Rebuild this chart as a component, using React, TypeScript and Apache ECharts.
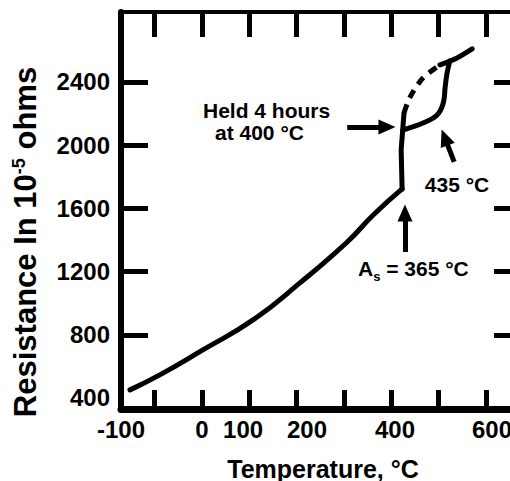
import React, { useEffect, useRef } from 'react';
import * as echarts from 'echarts';

// ---- axis scale (units of the tick marks) ----
const X_MIN = -171;
const X_MAX = 670;
const Y_MIN = 330;
const Y_MAX = 2843;

// tick marks and tick labels
const xTickValues = [-100, 0, 100, 200, 300, 400, 500, 600];
const xLabelValues = [-171, 0, 87, 222, 408, 613];
const xLabelTexts = ['-100', '0', '100', '200', '400', '600'];
const yTickValues = [800, 1200, 1600, 2000, 2400];
const yLabelValues = [400, 800, 1200, 1600, 2000, 2400];

// ---- series data [temperature, resistance] ----
const heating = [
  [-152, 451], [-89, 546], [2, 704], [108, 894], [207, 1128],
  [307, 1387], [362, 1558], [423, 1723],
];
const transformation = [[423, 1723], [421, 1970], [427, 2204]];
const heldBranch = [
  [425, 2096], [467, 2140], [497, 2191], [510, 2267],
  [514, 2368], [518, 2457], [524, 2534],
];
const upperLine = [[503, 2508], [539, 2552], [571, 2609]];
const dashedPath = [[427, 2204], [440, 2305], [467, 2425], [503, 2508]];

// ---- annotation arrows [from, to] ----
const arrows = [
  [[307, 2115], [391, 2115]],
  [[533, 1894], [513, 2049]],
  [[429, 1324], [429, 1571]],
];

const FONT = "'Liberation Sans', Arial, Helvetica, sans-serif";

export default function App() {
  const ref = useRef<HTMLDivElement>(null);

  useEffect(() => {
    if (!ref.current) return;
    const chart = echarts.init(ref.current, undefined, { renderer: 'svg' });

    const lineBase = {
      type: 'line',
      symbol: 'none',
      silent: true,
      clip: false,
      lineStyle: { color: '#000', width: 5, cap: 'round', join: 'round' },
    };

    const commonX = {
      type: 'value',
      min: X_MIN,
      max: X_MAX,
      splitLine: { show: false },
    };
    const commonY = {
      type: 'value',
      min: Y_MIN,
      max: Y_MAX,
      splitLine: { show: false },
    };

    const option: any = {
      animation: false,
      backgroundColor: '#fff',
      grid: {
        left: 121, right: 11, top: 12, bottom: 72,
        containLabel: false,
        outerBoundsMode: 'none',
      },
      xAxis: [
        {
          ...commonX,
          position: 'bottom',
          axisLine: { show: true, onZero: false, lineStyle: { color: '#000', width: 7 } },
          axisTick: {
            show: true,
            inside: true,
            length: 19,
            customValues: xTickValues,
            lineStyle: { color: '#000', width: 5 },
          },
          axisLabel: {
            show: true,
            customValues: xLabelValues,
            formatter: (v: number) => {
              const i = xLabelValues.indexOf(v);
              return i >= 0 ? xLabelTexts[i] : '';
            },
            fontSize: 24,
            fontWeight: 'bold',
            fontFamily: FONT,
            color: '#000',
            margin: 8,
          },
          name: 'Temperature, °C',
          nameLocation: 'middle',
          nameGap: 47,
          nameTextStyle: {
            fontSize: 25,
            fontWeight: 'bold',
            fontFamily: FONT,
            color: '#000',
            padding: [0, 0, 0, 6],
          },
        },
        {
          ...commonX,
          position: 'top',
          axisLine: { show: true, onZero: false, lineStyle: { color: '#000', width: 4 } },
          axisTick: {
            show: true,
            inside: true,
            length: 25,
            customValues: xTickValues,
            lineStyle: { color: '#000', width: 5 },
          },
          axisLabel: { show: false },
        },
      ],
      yAxis: [
        {
          ...commonY,
          position: 'left',
          axisLine: { show: true, onZero: false, lineStyle: { color: '#000', width: 6 } },
          axisTick: {
            show: true,
            inside: true,
            length: 27,
            customValues: yTickValues,
            lineStyle: { color: '#000', width: 5 },
          },
          axisLabel: {
            show: true,
            customValues: yLabelValues,
            formatter: (v: number) => String(v),
            fontSize: 24,
            fontWeight: 'bold',
            fontFamily: FONT,
            color: '#000',
            margin: 11,
          },
        },
        {
          ...commonY,
          position: 'right',
          axisLine: { show: true, onZero: false, lineStyle: { color: '#000', width: 6 } },
          axisTick: {
            show: true,
            inside: true,
            length: 25,
            customValues: yTickValues,
            lineStyle: { color: '#000', width: 5 },
          },
          axisLabel: { show: false },
        },
      ],
      series: [
        {
          ...lineBase,
          name: 'Heating',
          smooth: 0.5,
          data: heating,
          markLine: {
            silent: true,
            symbol: ['none', 'triangle'],
            symbolSize: [15, 17],
            lineStyle: { color: '#000', width: 5, type: 'solid' },
            label: { show: false },
            emphasis: { disabled: true },
            data: arrows.map(([a, b]) => [{ coord: a }, { coord: b }]),
          },
        },
        { ...lineBase, name: 'Transformation', data: transformation },
        { ...lineBase, name: 'Held 4 h', smooth: 0.4, data: heldBranch },
        { ...lineBase, name: 'Upper', smooth: 0.3, data: upperLine },
        {
          ...lineBase,
          name: 'Continuous heating',
          smooth: 0.3,
          data: dashedPath,
          lineStyle: { color: '#000', width: 5, type: [9, 7] },
        },
      ],
      graphic: [
        {
          type: 'text',
          x: 25,
          y: 242,
          rotation: Math.PI / 2,
          style: {
            text: '{n|Resistance In 10}{sup|-5}{n| ohms}',
            align: 'center',
            verticalAlign: 'middle',
            textAlign: 'center',
            textVerticalAlign: 'middle',
            fill: '#000',
            rich: {
              n: { fontSize: 31, fontWeight: 'bold', fontFamily: FONT, fill: '#000' },
              sup: { fontSize: 18, fontWeight: 'bold', fontFamily: FONT, fill: '#000', verticalAlign: 'top' },
            },
          },
        },
        {
          type: 'text',
          x: 203,
          y: 110,
          style: {
            text: 'Held 4 hours',
            fontSize: 21,
            fontWeight: 'bold',
            fontFamily: FONT,
            fill: '#000',
            align: 'left',
            verticalAlign: 'middle',
          },
        },
        {
          type: 'text',
          x: 215,
          y: 132,
          style: {
            text: 'at 400 °C',
            fontSize: 21,
            fontWeight: 'bold',
            fontFamily: FONT,
            fill: '#000',
            align: 'left',
            verticalAlign: 'middle',
          },
        },
        {
          type: 'text',
          x: 457,
          y: 184,
          style: {
            text: '435 °C',
            fontSize: 21,
            fontWeight: 'bold',
            fontFamily: FONT,
            fill: '#000',
            align: 'center',
            verticalAlign: 'middle',
          },
        },
        {
          type: 'text',
          x: 358,
          y: 270,
          style: {
            text: '{b|A}{s|s}{b| = 365 °C}',
            align: 'left',
            verticalAlign: 'middle',
            fill: '#000',
            rich: {
              b: { fontSize: 21, lineHeight: 22, fontWeight: 'bold', fontFamily: FONT, fill: '#000', verticalAlign: 'top' },
              s: { fontSize: 13, lineHeight: 25, fontWeight: 'bold', fontFamily: FONT, fill: '#000', verticalAlign: 'bottom' },
            },
          },
        },
      ],
    };

    chart.setOption(option);
    return () => chart.dispose();
  }, []);

  return (
    <div
      ref={ref}
      style={{ position: 'fixed', left: 0, top: 0, width: 530, height: 481, background: '#fff' }}
    />
  );
}
